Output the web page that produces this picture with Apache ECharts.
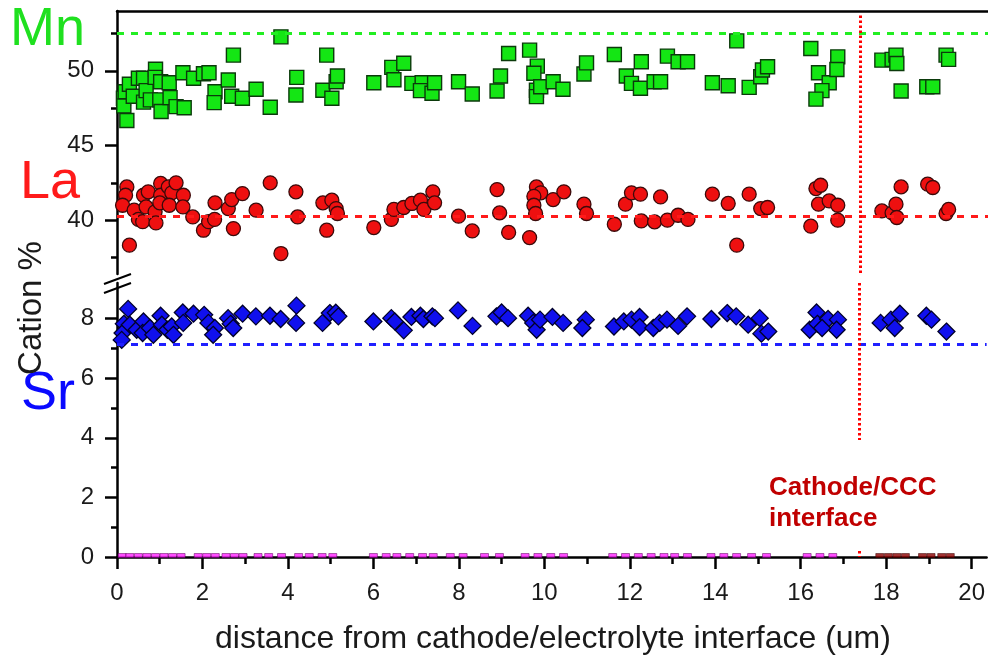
<!DOCTYPE html>
<html>
<head>
<meta charset="utf-8">
<script src="https://cdn.jsdelivr.net/npm/echarts@6/dist/echarts.min.js"></script>
<style>
  html, body { margin: 0; padding: 0; background: #fff; }
  #chart { width: 988px; height: 659px; }
</style>
</head>
<body>
<div id="chart"></div>
<script>
// distance (um), cation %
const mnPoints = [
  [0.15,48.16],[0.16,47.65],[0.23,46.67],[0.19,48.6],[0.29,49.1],[0.38,48.3],[0.5,49.5],[0.62,49.5],
  [0.62,47.9],[0.68,48.67],[0.78,48.05],[0.9,50.1],[0.89,49.56],[1.02,49.27],[1.0,48.05],[1.03,47.27],
  [1.22,49.2],[1.24,48.2],[1.38,47.6],[1.57,47.53],[1.54,49.87],[1.79,49.5],[2.02,49.8],[2.15,49.87],
  [2.29,48.6],[2.27,47.87],[2.6,49.38],[2.68,48.3],[2.93,48.16],[2.72,51.05],[3.25,48.76],[3.58,47.56],
  [3.83,52.27],[4.2,49.56],[4.18,48.38],[4.9,51.05],[4.81,48.7],[5.02,48.16],[5.12,49.27],[5.15,49.65],
  [6.0,49.2],[6.42,50.23],[6.47,49.4],[6.7,50.5],[6.89,49.16],[7.13,49.2],[7.09,48.67],[7.36,48.5],
  [7.42,49.2],[7.98,49.27],[8.3,48.45],[8.88,48.65],[8.96,49.65],[9.15,51.16],[9.64,51.38],[9.82,50.31],
  [9.74,49.83],[9.8,48.7],[9.8,48.27],[9.9,48.93],[10.19,49.27],[10.42,48.76],[10.91,49.78],[10.97,50.53],
  [11.62,51.09],[11.9,49.65],[12.02,49.16],[12.23,48.83],[12.25,50.6],[12.55,49.27],[12.7,49.27],[12.86,50.98],
  [13.11,50.6],[13.33,50.6],[13.91,49.2],[14.28,49.0],[14.48,52.0],[14.77,48.89],[15.04,49.6],[15.08,50.05],
  [15.2,50.27],[16.21,51.49],[16.39,49.87],[16.64,49.2],[16.47,48.67],[16.33,48.1],[16.84,50.93],[16.82,50.09],
  [17.87,50.71],[18.11,50.76],[18.2,51.05],[18.22,50.49],[18.32,48.65],[18.92,48.93],[19.06,48.93],[19.37,51.05],
  [19.43,50.76]
];
const laPoints = [
  [0.23,42.23],[0.2,41.67],[0.13,41.0],[0.29,38.33],[0.4,40.67],[0.5,40.05],[0.6,39.9],[0.62,41.67],
  [0.73,41.9],[0.68,40.89],[0.89,40.56],[0.91,39.82],[1.02,42.46],[1.02,41.67],[1.0,41.16],[1.2,42.23],
  [1.28,41.83],[1.22,41.0],[1.38,42.5],[1.55,41.67],[1.54,40.89],[1.77,40.22],[2.02,39.33],[2.14,39.9],
  [2.28,40.05],[2.29,41.16],[2.6,40.78],[2.68,41.38],[2.72,39.44],[2.93,41.78],[3.25,40.67],[3.58,42.5],
  [3.83,37.77],[4.18,41.9],[4.22,40.22],[4.81,41.16],[4.9,39.33],[5.02,41.34],[5.12,40.78],[5.15,40.45],
  [6.0,39.51],[6.41,40.05],[6.47,40.72],[6.7,40.85],[6.89,41.12],[7.09,41.34],[7.17,40.72],[7.38,41.9],
  [7.42,41.16],[7.98,40.27],[8.3,39.28],[8.88,42.05],[8.94,40.49],[9.15,39.18],[9.64,38.84],[9.8,42.23],
  [9.9,41.83],[9.74,41.6],[9.74,41.0],[9.78,40.45],[10.19,41.38],[10.44,41.9],[10.91,41.07],[10.97,40.45],
  [11.62,39.73],[11.88,41.07],[12.02,41.83],[12.23,41.74],[12.25,39.95],[12.56,39.89],[12.7,41.56],[12.86,40.0],
  [13.11,40.33],[13.34,40.05],[13.91,41.74],[14.28,41.12],[14.48,38.33],[14.77,41.74],[15.04,40.78],[15.2,40.85],
  [16.33,42.12],[16.44,42.34],[16.39,41.07],[16.21,39.6],[16.64,41.29],[16.84,41.0],[16.84,40.0],[17.87,40.62],
  [18.11,40.49],[18.2,41.07],[18.22,40.18],[18.32,42.23],[18.94,42.41],[19.06,42.19],[19.37,40.45],[19.43,40.72]
];
const srPoints = [
  [0.26,8.33],[0.16,7.83],[0.13,7.52],[0.11,7.29],[0.3,7.8],[0.46,7.63],[0.62,7.91],[0.6,7.52],
  [0.77,7.69],[0.85,7.46],[1.02,8.1],[1.05,7.8],[1.18,7.63],[1.28,7.74],[1.32,7.46],[1.54,8.21],
  [1.55,7.86],[1.79,8.17],[2.04,8.13],[2.14,7.86],[2.29,7.69],[2.25,7.46],[2.6,8.02],[2.66,7.83],
  [2.72,7.69],[2.94,8.17],[3.25,8.08],[3.58,8.1],[3.83,7.99],[4.2,8.44],[4.19,7.86],[4.81,7.86],
  [4.98,8.19],[5.12,8.2],[5.18,8.08],[6.0,7.91],[6.42,8.02],[6.5,7.91],[6.71,7.61],[6.89,8.06],
  [7.1,8.1],[7.17,7.99],[7.38,8.08],[7.44,8.02],[7.98,8.28],[8.32,7.76],[8.88,8.08],[9.0,8.21],
  [9.15,8.02],[9.62,8.1],[9.74,7.86],[9.82,7.63],[9.9,7.97],[10.19,8.06],[10.44,7.86],[10.97,7.97],
  [10.89,7.69],[11.63,7.74],[11.86,7.91],[12.04,7.97],[12.23,8.06],[12.23,7.72],[12.55,7.69],[12.7,7.86],
  [12.87,7.97],[13.13,7.76],[13.34,8.08],[13.91,7.99],[14.28,8.19],[14.49,8.08],[14.77,7.8],[15.04,8.02],
  [15.08,7.5],[15.24,7.57],[16.37,8.21],[16.21,7.63],[16.39,7.83],[16.64,7.99],[16.87,7.97],[16.84,7.63],
  [16.5,7.69],[17.87,7.86],[18.11,7.97],[18.32,8.17],[18.2,7.69],[18.94,8.1],[19.06,7.97],[19.41,7.57]
];
// other cations sitting on the zero line
const zeroMagenta = [0.12,0.3,0.5,0.7,0.9,1.1,1.3,1.5,1.9,2.1,2.3,2.55,2.75,2.95,3.3,3.55,3.85,
  4.25,4.5,4.8,5.05,6.0,6.3,6.55,6.85,7.15,7.4,7.8,8.1,8.6,8.95,9.55,9.85,10.15,10.45,
  11.6,11.9,12.2,12.5,12.8,13.05,13.35,13.9,14.2,14.5,14.85,15.2,16.15,16.45,16.75];
const zeroDarkRed = [17.85,18.05,18.25,18.45,18.85,19.05,19.3,19.5];

const mnMean = 52.5;
const laMean = 40.27;
const srMean = 7.13;
const interfaceX = 17.36;

const xTicks = [0,2,4,6,8,10,12,14,16,18,20];
const xMinor = [1,3,5,7,9,11,13,15,17,19];
const yTopTicks = [40,45,50];
const yTopMinor = [37.5,42.5,47.5,52.5];
const yBotTicks = [0,2,4,6,8];
const yBotMinor = [1,3,5,7];

const FONT = 'Liberation Sans, Arial, sans-serif';
const chart = echarts.init(document.getElementById('chart'));

const axisLine = { show: true, lineStyle: { color: '#000', width: 2.5 } };
function majorY(grid, min, max, ticks) {
  return {
    type: 'value', gridIndex: grid, min, max, position: 'left',
    axisLine, splitLine: { show: false },
    axisTick: { show: true, length: 12, customValues: ticks, lineStyle: { color: '#000', width: 2.5 } },
    axisLabel: { customValues: ticks, fontSize: 24, color: '#1a1a1a', margin: 23, fontFamily: FONT }
  };
}
function minorY(grid, min, max, ticks) {
  return {
    type: 'value', gridIndex: grid, min, max, position: 'left', offset: 0,
    axisLine: { show: false }, splitLine: { show: false },
    axisTick: { show: true, length: 6, customValues: ticks, lineStyle: { color: '#000', width: 2.5 } },
    axisLabel: { show: false }
  };
}
const dotStyle = { color: '#ff0000', width: 3, type: [2.5, 2.5] };
function redDotted(a, b) {
  return [{ coord: a, lineStyle: dotStyle }, { coord: b }];
}

chart.setOption({
  animation: false,
  grid: [
    { left: 117, right: 0, top: 11, height: 263 },
    { left: 117, right: 0, top: 283, height: 274 }
  ],
  xAxis: [
    { type: 'value', gridIndex: 0, min: 0, max: 20.35, position: 'top', axisLine,
      axisTick: { show: false }, axisLabel: { show: false }, splitLine: { show: false } },
    { type: 'value', gridIndex: 1, min: 0, max: 20.35, position: 'bottom', axisLine, splitLine: { show: false },
      axisTick: { show: true, length: 12, customValues: xTicks, lineStyle: { color: '#000', width: 2.5 } },
      axisLabel: { customValues: xTicks, fontSize: 24, color: '#1a1a1a', margin: 24, fontFamily: FONT } },
    { type: 'value', gridIndex: 1, min: 0, max: 20.35, position: 'bottom', offset: 0,
      axisLine: { show: false }, splitLine: { show: false }, axisLabel: { show: false },
      axisTick: { show: true, length: 7, customValues: xMinor, lineStyle: { color: '#000', width: 2.5 } } }
  ],
  yAxis: [
    majorY(0, 36.4, 54, yTopTicks),
    minorY(0, 36.4, 54, yTopMinor),
    majorY(1, 0, 9.2, yBotTicks),
    minorY(1, 0, 9.2, yBotMinor)
  ],
  series: [
    {
      name: 'Mn', type: 'scatter', xAxisIndex: 0, yAxisIndex: 0, data: mnPoints,
      symbol: 'rect', symbolSize: 14,
      itemStyle: { color: '#14e614', borderColor: '#0b3a0b', borderWidth: 1.4, opacity: 1 },
      markLine: { silent: true, symbol: 'none', label: { show: false },
        lineStyle: { color: '#22ee22', width: 3, type: [7, 7] },
        data: [{ yAxis: mnMean }] }
    },
    {
      name: 'La', type: 'scatter', xAxisIndex: 0, yAxisIndex: 0, data: laPoints,
      symbol: 'circle', symbolSize: 14,
      itemStyle: { color: '#ee1010', borderColor: '#3a0a0a', borderWidth: 1.3, opacity: 1 },
      markLine: { silent: true, symbol: 'none', label: { show: false },
        lineStyle: { color: '#ff1a1a', width: 3, type: [7, 7] },
        data: [
          { yAxis: laMean },
          redDotted([interfaceX, 53.7], [interfaceX, 36.4])
        ] }
    },
    {
      name: 'Sr', type: 'scatter', xAxisIndex: 1, yAxisIndex: 2, data: srPoints,
      symbol: 'diamond', symbolSize: 17,
      itemStyle: { color: '#1010ee', borderColor: '#00002a', borderWidth: 1.3, opacity: 1 },
      markLine: { silent: true, symbol: 'none', label: { show: false },
        lineStyle: { color: '#2020ff', width: 3, type: [7, 7] },
        data: [
          { yAxis: srMean },
          redDotted([interfaceX, 9.2], [interfaceX, 3.93]),
          redDotted([interfaceX, 0.2], [interfaceX, 0])
        ] }
    },
    {
      name: 'zero', type: 'scatter', xAxisIndex: 1, yAxisIndex: 2,
      data: zeroMagenta.map(x => [x, 0.05]),
      symbol: 'rect', symbolSize: [8, 4],
      itemStyle: { color: '#ff22ff', borderColor: '#5a005a', borderWidth: 0.6 }
    },
    {
      name: 'zero2', type: 'scatter', xAxisIndex: 1, yAxisIndex: 2,
      data: zeroDarkRed.map(x => [x, 0.05]),
      symbol: 'rect', symbolSize: [8, 4],
      itemStyle: { color: '#8b0000', borderColor: '#3a0000', borderWidth: 0.6 }
    }
  ],
  graphic: [
    // axis break marks
    { type: 'line', shape: { x1: 104, y1: 284, x2: 131, y2: 274 }, style: { stroke: '#000', lineWidth: 2 } },
    { type: 'line', shape: { x1: 104, y1: 293, x2: 131, y2: 283 }, style: { stroke: '#000', lineWidth: 2 } },
    { type: 'text', style: { text: 'Mn', x: 10, y: 30, fill: '#1fe01f', fontSize: 54, fontFamily: FONT, verticalAlign: 'middle' } },
    { type: 'text', style: { text: 'La', x: 20, y: 183, fill: '#ff1a1a', fontSize: 54, fontFamily: FONT, verticalAlign: 'middle' } },
    { type: 'text', style: { text: 'Sr', x: 21, y: 394, fill: '#0a0aff', fontSize: 54, fontFamily: FONT, verticalAlign: 'middle' } },
    { type: 'text', x: 32, y: 308, rotation: Math.PI / 2,
      style: { text: 'Cation %', fill: '#1a1a1a', fontSize: 33, fontFamily: FONT, align: 'center', verticalAlign: 'middle' } },
    { type: 'text', style: { text: 'distance from cathode/electrolyte interface (um)', x: 553, y: 639,
      fill: '#1a1a1a', fontSize: 32, fontFamily: FONT, align: 'center', verticalAlign: 'middle' } },
    { type: 'text', style: { text: 'Cathode/CCC', x: 769, y: 488, fill: '#c00000', fontSize: 26,
      fontWeight: 'bold', fontFamily: FONT, verticalAlign: 'middle' } },
    { type: 'text', style: { text: 'interface', x: 769, y: 519, fill: '#c00000', fontSize: 26,
      fontWeight: 'bold', fontFamily: FONT, verticalAlign: 'middle' } }
  ]
});
</script>
</body>
</html>
